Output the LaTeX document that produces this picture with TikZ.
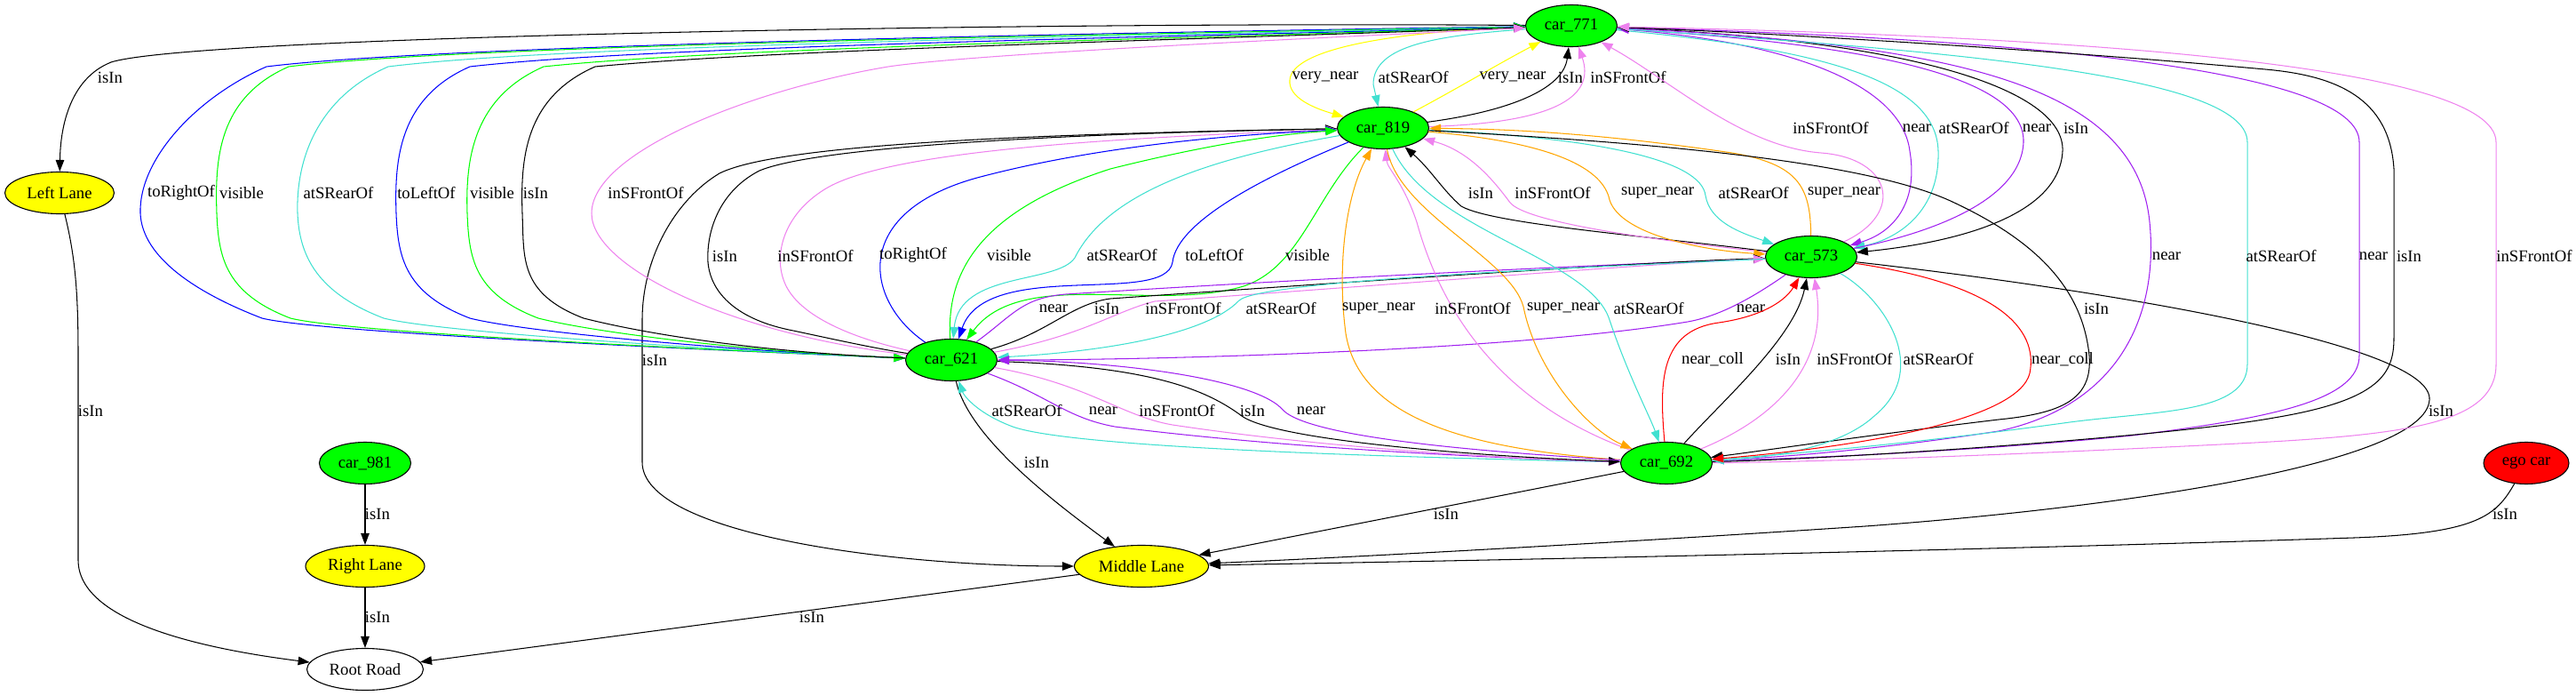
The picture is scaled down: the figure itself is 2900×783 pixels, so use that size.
\documentclass[tikz,border=0pt]{standalone}
\usepackage{fontspec}
\setmainfont{Liberation Serif}
\usetikzlibrary{arrows.meta,shapes.geometric}
\definecolor{gvgreen}{HTML}{00FF00}
\definecolor{gvyellow}{HTML}{FFFF00}
\definecolor{gvred}{HTML}{FF0000}
\definecolor{gvblue}{HTML}{0000FF}
\definecolor{gvturq}{HTML}{40E0D0}
\definecolor{gvviolet}{HTML}{EE82EE}
\definecolor{gvpurple}{HTML}{A020F0}
\definecolor{gvorange}{HTML}{FFA500}

\begin{document}
\begin{tikzpicture}[
  x=1pt, y=-1pt,
  font=\fontsize{18.7}{22}\selectfont,
  >={Triangle[length=13pt,width=9.5pt]},
  obj/.style={ellipse, draw, line width=1.1pt, inner sep=0pt, minimum height=47pt},
  car/.style={obj, fill=gvgreen, minimum width=103pt},
  lane/.style={obj, fill=gvyellow},
  arr/.style={line width=1.05pt},
  lbl/.style={inner sep=0pt, text=black}
]
\useasboundingbox (0,0) rectangle (2900,783);

\node[car] (c771) at (1769,29) {car\_771};
\node[car] (c819) at (1557,144) {car\_819};
\node[car] (c573) at (2039,289) {car\_573};
\node[car] (c621) at (1071,405) {car\_621};
\node[car] (c692) at (1876,521) {car\_692};
\node[car] (c981) at (411,521) {car\_981};
\node[obj, fill=gvred, minimum width=96pt] (ego) at (2844,521) {ego car};
\node[lane, minimum width=123pt] (leftlane) at (67,217) {Left Lane};
\node[lane, minimum width=134pt] (rightlane) at (411,637) {Right Lane};
\node[lane, minimum width=151pt] (middlelane) at (1285,637) {Middle Lane};
\node[obj, minimum width=131pt] (root) at (411,753) {Root Road};

% lanes and road
\draw[arr,->] (c771) .. controls (1200,24) and (220,40) .. (125,70) .. controls (80,88) and (68,140) .. (leftlane) node[lbl] at (124,87) {isIn};
\draw[arr,->] (leftlane) .. controls (85,290) and (88,330) .. (88,400) -- (88,630) .. controls (88,700) and (230,730) .. (root) node[lbl] at (102,462) {isIn};
\draw[arr,->] (c981) -- (rightlane) node[lbl] at (425,578) {isIn};
\draw[arr,->] (rightlane) -- (root) node[lbl] at (425,694) {isIn};
\draw[arr,->] (middlelane) -- (root) node[lbl] at (914,694) {isIn};
\draw[arr,->] (c819) .. controls (1200,150) and (880,160) .. (810,195) .. controls (760,225) and (723,290) .. (723,360) -- (723,520) .. controls (723,600) and (1000,637) .. (middlelane) node[lbl] at (737,405) {isIn};
\draw[arr,->] (c621) .. controls (1090,490) and (1180,560) .. (middlelane) node[lbl] at (1167,520) {isIn};
\draw[arr,->] (c692) -- (middlelane) node[lbl] at (1628,578) {isIn};
\draw[arr,->] (c573) .. controls (2400,330) and (2740,390) .. (2735,450) .. controls (2730,520) and (2400,570) .. (2100,592) .. controls (1800,612) and (1500,628) .. (middlelane) node[lbl] at (2748,462) {isIn};
\draw[arr,->] (ego) .. controls (2810,580) and (2790,600) .. (2650,605) .. controls (2200,620) and (1600,632) .. (middlelane) node[lbl] at (2820,578) {isIn};

% car_771 / car_819
\draw[arr,->,gvyellow] (c771) .. controls (1600,34) and (1455,50) .. (1452,90) .. controls (1450,110) and (1480,122) .. (c819) node[lbl] at (1492,87) {very\_near};
\draw[arr,->,gvturq] (c771) .. controls (1620,40) and (1546,50) .. (1546,95) -- (c819) node[lbl] at (1591,87) {atSRearOf};
\draw[arr,->,gvyellow] (c819) .. controls (1640,100) and (1690,70) .. (c771) node[lbl] at (1703,87) {very\_near};
\draw[arr,->] (c819) .. controls (1700,125) and (1760,100) .. (c771) node[lbl] at (1768,87) {isIn};
\draw[arr,->,gvviolet] (c819) .. controls (1760,138) and (1795,105) .. (c771) node[lbl] at (1833,87) {inSFrontOf};

% car_771 / car_573
\draw[arr,->,gvviolet] (c573) .. controls (2145,240) and (2130,178) .. (2050,172) .. controls (1960,165) and (1880,90) .. (c771) node[lbl] at (2061,144) {inSFrontOf};
\draw[arr,->,gvpurple] (c771) .. controls (2000,45) and (2140,90) .. (2150,170) .. controls (2160,230) and (2130,262) .. (c573) node[lbl] at (2158,144) {near};
\draw[arr,->,gvturq] (c771) .. controls (2050,55) and (2180,90) .. (2182,170) .. controls (2184,235) and (2140,268) .. (c573) node[lbl] at (2222,144) {atSRearOf};
\draw[arr,<-,gvpurple] (c771) .. controls (2100,50) and (2280,85) .. (2278,160) .. controls (2275,230) and (2160,265) .. (c573) node[lbl] at (2293,144) {near};
\draw[arr,->] (c771) .. controls (2150,45) and (2325,100) .. (2322,170) .. controls (2318,250) and (2180,275) .. (c573) node[lbl] at (2337,144) {isIn};

% car_771 / car_692
\draw[arr,->,gvpurple] (c771) .. controls (2200,50) and (2405,95) .. (2420,250) .. controls (2430,350) and (2390,455) .. (2250,485) .. controls (2100,508) and (1990,515) .. (c692) node[lbl] at (2439,288) {near};
\draw[arr,->,gvturq] (c771) .. controls (2250,60) and (2530,90) .. (2530,160) -- (2530,410) .. controls (2530,465) and (2430,462) .. (2330,475) .. controls (2150,500) and (2000,512) .. (c692) node[lbl] at (2568,288) {atSRearOf};
\draw[arr,<-,gvpurple] (c771) .. controls (2300,45) and (2656,80) .. (2656,160) -- (2656,400) .. controls (2656,450) and (2560,470) .. (2400,490) .. controls (2200,510) and (2000,516) .. (c692) node[lbl] at (2672,288) {near};
\draw[arr,<-] (c771) .. controls (1950,35) and (2300,55) .. (2550,78) .. controls (2630,85) and (2690,110) .. (2695,190) -- (2695,380) .. controls (2695,420) and (2680,450) .. (2560,470) .. controls (2450,490) and (2100,515) .. (c692) node[lbl] at (2712,288) {isIn};
\draw[arr,<-,gvviolet] (c771) .. controls (2300,40) and (2810,70) .. (2810,160) -- (2810,410) .. controls (2810,480) and (2700,490) .. (2500,500) .. controls (2300,510) and (2050,520) .. (c692) node[lbl] at (2853,288) {inSFrontOf};

% car_771 / car_621
\draw[arr,<-,gvblue] (c771) .. controls (1300,36) and (500,50) .. (300,75) .. controls (220,110) and (156,180) .. (158,240) .. controls (160,290) and (222,330) .. (295,358) .. controls (362,375) and (850,396) .. (c621) node[lbl] at (204,217) {toRightOf};
\draw[arr,<-,gvgreen] (c771) .. controls (1300,38) and (525,50) .. (325,75) .. controls (245,110) and (242,180) .. (244,240) .. controls (246,290) and (254,330) .. (327,358) .. controls (394,375) and (850,396) .. (c621) node[lbl] at (272,217) {visible};
\draw[arr,->,gvturq] (c771) .. controls (1300,40) and (637,50) .. (437,75) .. controls (357,110) and (333,180) .. (335,240) .. controls (337,290) and (359,330) .. (432,358) .. controls (499,375) and (850,396) .. (c621) node[lbl] at (381,217) {atSRearOf};
\draw[arr,->,gvblue] (c771) .. controls (1300,42) and (729,52) .. (529,75) .. controls (449,110) and (444,180) .. (446,240) .. controls (448,290) and (456,330) .. (529,358) .. controls (596,375) and (850,396) .. (c621) node[lbl] at (480,217) {toLeftOf};
\draw[arr,->,gvgreen] (c771) .. controls (1300,44) and (812,54) .. (612,75) .. controls (532,110) and (524,180) .. (526,240) .. controls (528,290) and (533,330) .. (606,358) .. controls (673,375) and (850,396) .. (c621) node[lbl] at (554,217) {visible};
\draw[arr,<-] (c771) .. controls (1300,46) and (870,56) .. (670,75) .. controls (590,110) and (586,180) .. (588,240) .. controls (590,290) and (584,330) .. (657,358) .. controls (724,375) and (850,396) .. (c621) node[lbl] at (603,217) {isIn};
\draw[arr,<-,gvviolet] (c771) .. controls (1500,42) and (1100,60) .. (1000,75) .. controls (850,100) and (666,170) .. (666,240) .. controls (666,300) and (820,375) .. (c621) node[lbl] at (727,217) {inSFrontOf};

% car_819 / car_621
\draw[arr,<-] (c819) .. controls (1200,150) and (920,165) .. (855,192) .. controls (810,215) and (795,260) .. (797,295) .. controls (800,330) and (830,360) .. (893,372) .. controls (940,382) and (985,392) .. (c621) node[lbl] at (816,288) {isIn};
\draw[arr,<-,gvviolet] (c819) .. controls (1250,155) and (1000,170) .. (930,212) .. controls (875,245) and (868,300) .. (890,330) .. controls (915,365) and (980,385) .. (c621) node[lbl] at (918,288) {inSFrontOf};
\draw[arr,->,gvblue] (c621) .. controls (975,340) and (955,240) .. (1100,200) .. controls (1250,160) and (1420,150) .. (c819) node[lbl] at (1028,287) {toRightOf};
\draw[arr,->,gvgreen] (c621) .. controls (1065,300) and (1110,235) .. (1250,190) .. controls (1370,160) and (1450,150) .. (c819) node[lbl] at (1136,287) {visible};
\draw[arr,->,gvturq] (c819) .. controls (1350,180) and (1245,220) .. (1210,290) .. controls (1190,320) and (1080,305) .. (c621) node[lbl] at (1263,287) {atSRearOf};
\draw[arr,->,gvblue] (c819) .. controls (1420,200) and (1325,250) .. (1320,295) .. controls (1312,345) and (1110,290) .. (c621) node[lbl] at (1367,287) {toLeftOf};
\draw[arr,->,gvgreen] (c819) .. controls (1480,220) and (1465,300) .. (1400,322) .. controls (1300,352) and (1150,300) .. (c621) node[lbl] at (1472,287) {visible};

% car_819 / car_573
\draw[arr,->] (c573) .. controls (1850,265) and (1680,252) .. (1645,232) .. controls (1625,215) and (1610,190) .. (c819) node[lbl] at (1667,217) {isIn};
\draw[arr,->,gvviolet] (c573) .. controls (1880,272) and (1720,252) .. (1700,228) .. controls (1683,205) and (1655,170) .. (c819) node[lbl] at (1748,217) {inSFrontOf};
\draw[arr,->,gvorange] (c819) .. controls (1750,160) and (1805,190) .. (1812,225) .. controls (1825,265) and (1920,282) .. (c573) node[lbl] at (1866,217) {super\_near};
\draw[arr,->,gvturq] (c819) .. controls (1800,155) and (1915,180) .. (1920,220) .. controls (1925,250) and (1960,262) .. (c573) node[lbl] at (1974,217) {atSRearOf};
\draw[arr,->,gvorange] (c573) .. controls (2038,210) and (2025,185) .. (1950,172) .. controls (1800,150) and (1700,145) .. (c819) node[lbl] at (2076,217) {super\_near};
\draw[arr,->] (c819) .. controls (1850,160) and (2100,180) .. (2200,228) .. controls (2300,275) and (2345,330) .. (2352,400) .. controls (2356,450) and (2320,465) .. (2250,472) .. controls (2100,490) and (2000,505) .. (c692) node[lbl] at (2360,347) {isIn};

% car_621 / car_573
\draw[arr,->,gvpurple] (c621) .. controls (1140,355) and (1150,335) .. (1200,331) .. controls (1500,312) and (1800,298) .. (c573) node[lbl] at (1186,347) {near};
\draw[arr,->] (c621) .. controls (1180,375) and (1205,342) .. (1250,336) .. controls (1550,315) and (1850,295) .. (c573) node[lbl] at (1246,347) {isIn};
\draw[arr,->,gvviolet] (c621) .. controls (1220,378) and (1255,350) .. (1300,339) .. controls (1600,318) and (1850,297) .. (c573) node[lbl] at (1332,347) {inSFrontOf};
\draw[arr,<-,gvturq] (c621) .. controls (1250,395) and (1360,375) .. (1395,338) .. controls (1420,315) and (1800,300) .. (c573) node[lbl] at (1442,347) {atSRearOf};
\draw[arr,->,gvpurple] (c573) .. controls (1980,330) and (1940,355) .. (1900,362) .. controls (1700,395) and (1300,405) .. (c621) node[lbl] at (1971,347) {near};

% car_819 / car_692
\draw[arr,->,gvorange] (c692) .. controls (1650,505) and (1530,470) .. (1515,375) .. controls (1505,300) and (1515,220) .. (c819) node[lbl] at (1552,347) {super\_near};
\draw[arr,->,gvviolet] (c692) .. controls (1680,450) and (1620,340) .. (1595,250) .. controls (1580,205) and (1562,190) .. (c819) node[lbl] at (1658,347) {inSFrontOf};
\draw[arr,->,gvorange] (c819) .. controls (1575,240) and (1700,290) .. (1715,345) .. controls (1730,420) and (1790,485) .. (c692) node[lbl] at (1760,347) {super\_near};
\draw[arr,->,gvturq] (c819) .. controls (1610,260) and (1790,290) .. (1812,360) .. controls (1832,420) and (1858,470) .. (c692) node[lbl] at (1856,347) {atSRearOf};

% car_573 / car_692
\draw[arr,->,gvred] (c692) .. controls (1868,430) and (1868,372) .. (1935,363) .. controls (1990,355) and (2012,335) .. (c573) node[lbl] at (1928,404) {near\_coll};
\draw[arr,->] (c692) .. controls (1940,450) and (2020,380) .. (c573) node[lbl] at (2013,404) {isIn};
\draw[arr,->,gvviolet] (c692) .. controls (2000,470) and (2058,410) .. (c573) node[lbl] at (2088,404) {inSFrontOf};
\draw[arr,->,gvturq] (c573) .. controls (2120,335) and (2175,415) .. (2110,468) .. controls (2070,505) and (1990,515) .. (c692) node[lbl] at (2182,404) {atSRearOf};
\draw[arr,->,gvred] (c573) .. controls (2250,320) and (2295,370) .. (2285,420) .. controls (2272,472) and (2100,502) .. (c692) node[lbl] at (2322,404) {near\_coll};

% car_621 / car_692
\draw[arr,->,gvturq] (c692) .. controls (1600,515) and (1210,505) .. (1140,480) .. controls (1100,465) and (1085,445) .. (c621) node[lbl] at (1156,462) {atSRearOf};
\draw[arr,->,gvpurple] (c621) .. controls (1180,445) and (1200,470) .. (1255,480) .. controls (1450,505) and (1700,516) .. (c692) node[lbl] at (1242,462) {near};
\draw[arr,->,gvviolet] (c621) .. controls (1225,432) and (1262,468) .. (1320,478) .. controls (1500,505) and (1700,516) .. (c692) node[lbl] at (1325,462) {inSFrontOf};
\draw[arr,->] (c621) .. controls (1300,412) and (1360,440) .. (1398,468) .. controls (1440,498) and (1700,515) .. (c692) node[lbl] at (1410,462) {isIn};
\draw[arr,->,gvpurple] (c692) .. controls (1700,510) and (1480,495) .. (1445,462) .. controls (1415,425) and (1250,406) .. (c621) node[lbl] at (1476,462) {near};
\end{tikzpicture}
\end{document}
